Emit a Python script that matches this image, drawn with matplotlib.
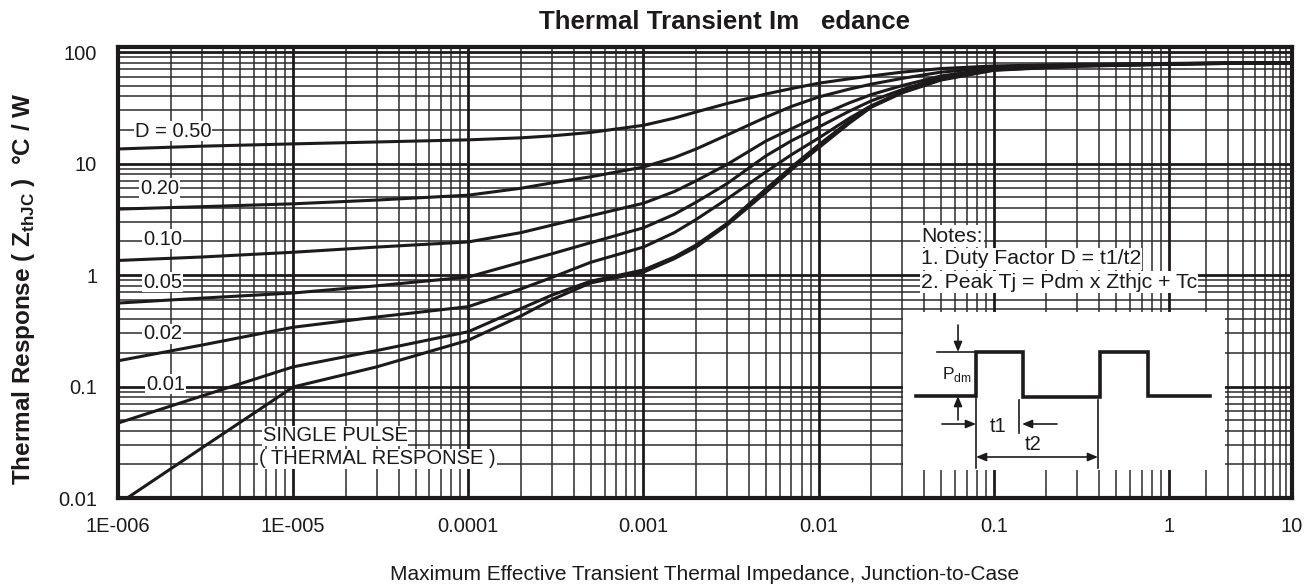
import numpy as np
import matplotlib
matplotlib.use("Agg")
import matplotlib.pyplot as plt

plt.rcParams["font.family"] = ["Liberation Sans", "DejaVu Sans"]
plt.rcParams["mathtext.fontset"] = "custom"
plt.rcParams["mathtext.rm"] = "Liberation Sans"
plt.rcParams["mathtext.bf"] = "Liberation Sans:bold"

# ---- data: thermal impedance Zth(jc) in degC/W versus pulse width (s) ----
pulse_width = [1e-6, 3e-6, 1e-5, 3e-5, 1e-4, 2e-4, 3e-4, 5e-4, 1e-3, 1.5e-3,
               2e-3, 3e-3, 5e-3, 7e-3, 1e-2, 1.5e-2, 2e-2, 3e-2, 5e-2, 0.1,
               0.3, 1, 3, 10]

z_d050 = [13.5, 14.3, 15.0, 15.6, 16.3, 17.0, 17.7, 19.0, 22.0, 25.5,
          29.0, 34.5, 42.0, 47.0, 52.5, 57.5, 61.0, 66.0, 71.0, 75.0,
          77.5, 79.0, 80.0, 80.5]
z_d020 = [3.9, 4.1, 4.35, 4.7, 5.2, 6.0, 6.7, 7.6, 9.3, 11.3,
          13.5, 18.0, 26.0, 32.5, 39.5, 46.5, 51.5, 58.0, 66.0, 72.5,
          76.5, 78.5, 79.5, 80.0]
z_d010 = [1.35, 1.45, 1.6, 1.78, 1.98, 2.4, 2.8, 3.4, 4.4, 5.6,
          7.0, 9.8, 15.9, 20.5, 26.7, 35.0, 41.5, 50.0, 61.0, 71.0,
          76.0, 78.5, 79.5, 80.0]
z_d005 = [0.56, 0.62, 0.69, 0.80, 0.96, 1.30, 1.55, 1.95, 2.65, 3.5,
          4.5, 6.6, 11.7, 16.0, 21.2, 29.5, 36.5, 46.0, 59.0, 70.0,
          75.5, 78.0, 79.5, 80.0]
z_d002 = [0.17, 0.235, 0.34, 0.42, 0.52, 0.75, 0.95, 1.30, 1.78, 2.4,
          3.15, 4.8, 8.4, 12.0, 16.9, 25.5, 33.0, 44.0, 58.0, 69.5,
          75.0, 78.0, 79.5, 80.0]
z_d001 = [0.047, 0.082, 0.15, 0.21, 0.31, 0.50, 0.66, 0.88, 1.11, 1.45,
          1.86, 2.9, 5.9, 9.3, 14.7, 24.0, 32.5, 43.5, 57.0, 69.0,
          75.0, 77.5, 79.0, 80.0]
z_single = [0.0088, 0.028, 0.099, 0.15, 0.26, 0.43, 0.60, 0.85, 1.06, 1.40,
            1.78, 2.8, 5.5, 8.8, 13.8, 23.0, 32.0, 43.0, 56.0, 68.5,
            74.5, 77.5, 79.0, 80.0]

curves = [z_d050, z_d020, z_d010, z_d005, z_d002, z_d001, z_single]

x_ticks = [1e-6, 1e-5, 1e-4, 1e-3, 1e-2, 0.1, 1, 10]
x_tick_labels = ["1E-006", "1E-005", "0.0001", "0.001", "0.01", "0.1", "1", "10"]
y_ticks = [0.01, 0.1, 1, 10, 100]
y_tick_labels = ["0.01", "0.1", "1", "10", "100"]

duty_labels = ["D = 0.50", "0.20", "0.10", "0.05", "0.02", "0.01"]
duty_label_pos = [(1.25e-6, 19.5), (1.34e-6, 6.0), (1.39e-6, 2.1), (1.39e-6, 0.865),
                  (1.39e-6, 0.296), (1.45e-6, 0.105)]

INK = "#1c1a1b"
GRID = "#2b2b2b"

# last decade of the time axis is drawn compressed
LAST_DECADE = 0.703


def fwd(x):
    x = np.asarray(x, dtype=float)
    with np.errstate(divide="ignore", invalid="ignore"):
        lx = np.log10(np.where(x > 0, x, 1e-300))
    return np.where(lx > 0, lx * LAST_DECADE, lx)


def inv(u):
    u = np.asarray(u, dtype=float)
    return np.power(10.0, np.where(u > 0, u / LAST_DECADE, u))


W, H = 1312, 585
fig = plt.figure(figsize=(W / 100, H / 100), dpi=100)
L, R, T, B = 118, 1292, 47, 498
ax = fig.add_axes([L / W, 1 - B / H, (R - L) / W, (B - T) / H])
ax.set_xscale("function", functions=(fwd, inv))
ax.set_yscale("log")
ax.set_xlim(1e-6, 10)
ax.set_ylim(0.01, 110.9)

# grid
xg_minor, xg_major = [], []
for d in range(-6, 1):
    for k in range(1, 10):
        v = k * 10.0 ** d
        (xg_major if k == 1 else xg_minor).append(v)
xg_major.append(10.0)
yg_minor, yg_major = [], []
for d in range(-2, 3):
    for k in range(1, 10):
        v = k * 10.0 ** d
        if v > 110:
            continue
        (yg_major if k == 1 else yg_minor).append(v)
ax.vlines(xg_minor, 0.01, 110.9, colors=GRID, lw=1.1, zorder=1)
ax.hlines(yg_minor, 1e-6, 10, colors=GRID, lw=1.1, zorder=1)
ax.vlines(xg_major, 0.01, 110.9, colors=INK, lw=2.0, zorder=1)
ax.hlines(yg_major, 1e-6, 10, colors=INK, lw=2.0, zorder=1)

for z in curves:
    ax.plot(pulse_width, z, color=INK, lw=2.2, solid_capstyle="round", zorder=3)

lbl_box = dict(facecolor="white", edgecolor="none", pad=0.6)
for txt, (xx, yy) in zip(duty_labels, duty_label_pos):
    ax.text(xx, yy, txt, fontsize=14.5, color=INK, ha="left", va="center",
            bbox=lbl_box, zorder=4)
ax.text(6.7e-6, 0.036, "SINGLE PULSE", fontsize=14.5, color=INK, ha="left",
        va="center", bbox=lbl_box, zorder=4)
ax.text(6.4e-6, 0.0224, "( THERMAL RESPONSE )", fontsize=14.5, color=INK,
        ha="left", va="center", bbox=lbl_box, zorder=4)

ax.set_xticks(x_ticks)
ax.set_xticklabels(x_tick_labels)
ax.set_yticks(y_ticks)
ax.set_yticklabels(y_tick_labels)
ax.minorticks_off()
ax.tick_params(axis="both", length=0, labelsize=14.5, colors=INK)
ax.tick_params(axis="x", pad=14)
ax.tick_params(axis="y", pad=15)
for s in ax.spines.values():
    s.set_linewidth(3.0)
    s.set_color(INK)
    s.set_zorder(6)

# notes
notes = ["Notes:", "1. Duty Factor D = t1/t2", "2. Peak Tj = Pdm x Zthjc + Tc"]
for i, line in enumerate(notes):
    fig.text(921 / W, 1 - (236 + 23 * i) / H, line, fontsize=15.3, color=INK,
             ha="left", va="center",
             bbox=dict(facecolor="white", edgecolor="none", pad=0.8), zorder=5)

# pulse sketch on a white panel
ix0, iy0, ix1, iy1 = 903, 312, 1225, 470
ins = fig.add_axes([ix0 / W, 1 - iy1 / H, (ix1 - ix0) / W, (iy1 - iy0) / H])
ins.set_xlim(0, ix1 - ix0)
ins.set_ylim(iy1 - iy0, 0)
ins.set_facecolor("white")
ins.set_xticks([])
ins.set_yticks([])
for s in ins.spines.values():
    s.set_visible(False)
ins.set_zorder(5)

wave_t = [13, 73, 73, 120, 120, 197, 197, 245, 245, 307]
wave_p = [84, 84, 40, 40, 85, 85, 40, 40, 84, 84]
ins.plot(wave_t, wave_p, color=INK, lw=2.6, solid_joinstyle="miter")

thin = dict(color=INK, lw=1.2)
arrow = dict(arrowstyle="-|>,head_length=0.6,head_width=0.25", color=INK, lw=1.2,
             shrinkA=0, shrinkB=0)
darrow = dict(arrowstyle="<|-|>,head_length=0.6,head_width=0.25", color=INK,
              lw=1.2, shrinkA=0, shrinkB=0)
ins.plot([34, 73], [40, 40], **thin)
ins.annotate("", xy=(55, 40), xytext=(55, 13), arrowprops=arrow)
ins.annotate("", xy=(55, 84), xytext=(55, 108), arrowprops=arrow)
ins.text(39, 62, r"P$_{\rm dm}$", fontsize=12.5, color=INK, ha="left", va="center")
ins.plot([73, 73], [84, 156], **thin)
ins.plot([116, 116], [88, 121], **thin)
ins.plot([195, 195], [88, 156], **thin)
ins.annotate("", xy=(73, 112), xytext=(39, 112), arrowprops=arrow)
ins.annotate("", xy=(119, 112), xytext=(154, 112), arrowprops=arrow)
ins.annotate("", xy=(73, 145), xytext=(195, 145), arrowprops=darrow)
ins.text(95, 114, "t1", fontsize=14.5, color=INK, ha="center", va="center")
ins.text(130, 133, "t2", fontsize=14.5, color=INK, ha="center", va="center")

fig.text(724 / W, 1 - 22 / H, "Thermal Transient Im   edance", fontsize=18.6,
         fontweight="bold", color=INK, ha="center", va="center")
fig.text(705 / W, 1 - 575 / H,
         "Maximum Effective Transient Thermal Impedance, Junction-to-Case",
         fontsize=15, color=INK, ha="center", va="center")
fig.text(24 / W, 1 - 289 / H,
         r"Thermal Response ( $\mathbf{Z}_{\mathbf{thJC}}$ )  °C / W",
         fontsize=17.5, fontweight="bold", color=INK, rotation=90,
         ha="center", va="center")

fig.savefig("out.png", dpi=100, facecolor="white")
